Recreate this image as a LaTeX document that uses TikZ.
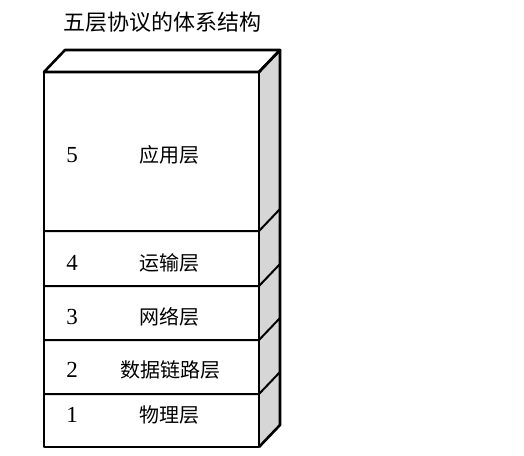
\documentclass[tikz,border=0pt]{standalone}
\usepackage{fontspec}
\setmainfont{Liberation Serif}
\newfontfamily\cjk{Noto Sans CJK SC}
\usetikzlibrary{calc}
\tikzset{
  layername/.style={font=\cjk\fontsize{20}{20}\selectfont,inner sep=0pt},
  layernum/.style={font=\fontsize{23}{23}\selectfont,inner sep=0pt},
}

\begin{document}
\begin{tikzpicture}[x=1pt,y=-1pt,line join=round]
  \useasboundingbox (0,0) rectangle (524,455);
  \pgfmathsetmacro{\xl}{44}  % left of front face
  \pgfmathsetmacro{\xr}{259} % right of front face
  \pgfmathsetmacro{\yt}{72}  % top of front face
  \pgfmathsetmacro{\yb}{447} % bottom of front face
  \pgfmathsetmacro{\dx}{21}  % depth
  \pgfmathsetmacro{\dy}{-22}
  \coordinate (FTL) at (\xl,\yt);
  \coordinate (FTR) at (\xr,\yt);
  \coordinate (FBL) at (\xl,\yb);
  \coordinate (FBR) at (\xr,\yb);
  \coordinate (BTL) at ($(FTL)+(\dx,\dy)$);
  \coordinate (BTR) at ($(FTR)+(\dx,\dy)$);
  \coordinate (BBR) at ($(FBR)+(\dx,\dy)$);
  % Title
  \node[font=\cjk\fontsize{22}{22}\selectfont,inner sep=0pt] (title) at (162,22) {五层协议的体系结构};
  % side face
  \fill[black!16] (FTR) -- (BTR) -- (BBR) -- (FBR) -- cycle;
  % layer boundaries
  \foreach \y in {231,286,340,394}
    \draw[line width=2pt] (\xl,\y) -- (\xr,\y) -- ++(\dx,\dy);
  % outline
  \draw[line width=2.6pt] (FTL) -- (BTL) -- (BTR) -- (FTR) -- cycle;
  \draw[line width=2.6pt] (FTR) -- (BTR) -- (BBR) -- (FBR);
  \draw[line width=2.6pt] (FTL) rectangle (FBR);
  % layers
  \node[layernum] (n5) at (72,155) {5};
  \node[layername] (l5) at (169,155) {应用层};
  \node[layernum] (n4) at (72,263) {4};
  \node[layername] (l4) at (169,263) {运输层};
  \node[layernum] (n3) at (72,317) {3};
  \node[layername] (l3) at (169,317) {网络层};
  \node[layernum] (n2) at (72,370) {2};
  \node[layername] (l2) at (170,370) {数据链路层};
  \node[layernum] (n1) at (72,415) {1};
  \node[layername] (l1) at (169,415) {物理层};
\end{tikzpicture}
\end{document}
